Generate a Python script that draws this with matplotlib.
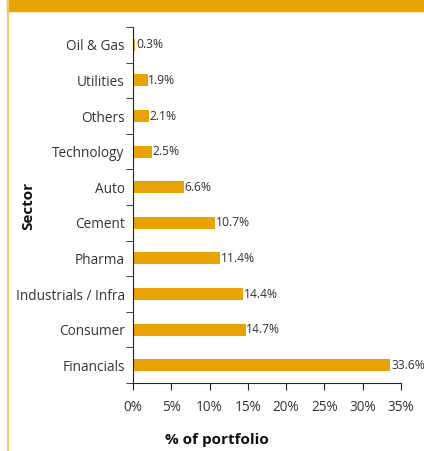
import matplotlib.pyplot as plt
from matplotlib.patches import Rectangle
from matplotlib.lines import Line2D
import matplotlib.ticker as mticker

plt.rcParams['font.family'] = ['Open Sans', 'DejaVu Sans']

sectors = ["Financials", "Consumer", "Industrials / Infra", "Pharma", "Cement",
           "Auto", "Technology", "Others", "Utilities", "Oil & Gas"]
weights = [33.6, 14.7, 14.4, 11.4, 10.7, 6.6, 2.5, 2.1, 1.9, 0.3]
xticks = [0, 5, 10, 15, 20, 25, 30, 35]

bar_color = "#E8A202"
text_color = "#333333"

fig = plt.figure(figsize=(4.24, 4.51), dpi=100)
W, H = 424, 451
ax = fig.add_axes([133 / W, 1 - 383 / H, (401 - 133) / W, (383 - 27) / H])

pos = range(len(sectors))
ax.barh(pos, weights, height=0.34, color=bar_color)
for i, w in zip(pos, weights):
    ax.text(w + 0.1, i, f"{w}%", va="center", ha="left", fontsize=8.7,
            color=text_color, clip_on=False)

ax.set_xlim(0, 35)
ax.set_ylim(-0.5, len(sectors) - 0.5)
ax.set_xticks(xticks)
ax.xaxis.set_major_formatter(mticker.FuncFormatter(lambda v, p: f"{v:.0f}%"))
ax.set_yticks(list(pos))
ax.set_yticklabels(sectors)
ax.set_yticks([i - 0.5 for i in range(len(sectors) + 1)], minor=True)
ax.tick_params(axis="y", which="major", length=0, pad=6, labelsize=9.8, labelcolor=text_color)
ax.tick_params(axis="y", which="minor", length=5, direction="out", color="#222222")
ax.tick_params(axis="x", length=5, direction="out", labelsize=9.8, labelcolor=text_color,
               color="#222222", pad=7)
for s in ["top", "right"]:
    ax.spines[s].set_visible(False)
ax.spines["left"].set_color("#222222")
ax.spines["bottom"].set_color("#222222")

fig.text(217 / W, 1 - 440 / H, "% of portfolio", fontsize=11, fontweight="bold",
         ha="center", va="center", color="#111111")
fig.text(28 / W, 1 - 206 / H, "Sector", rotation=90, fontsize=11, fontweight="bold",
         ha="center", va="center", color="#111111")

# header band and left border
fig.patches.append(Rectangle((7 / W, 1 - 11 / H), 1 - 7 / W, 11 / H,
                             transform=fig.transFigure, color="#E8A202", zorder=0))
fig.lines.append(Line2D([8 / W, 8 / W], [0, 1], transform=fig.transFigure,
                        color="#F2C46E", linewidth=1.5))

fig.savefig("out.png", dpi=100)
